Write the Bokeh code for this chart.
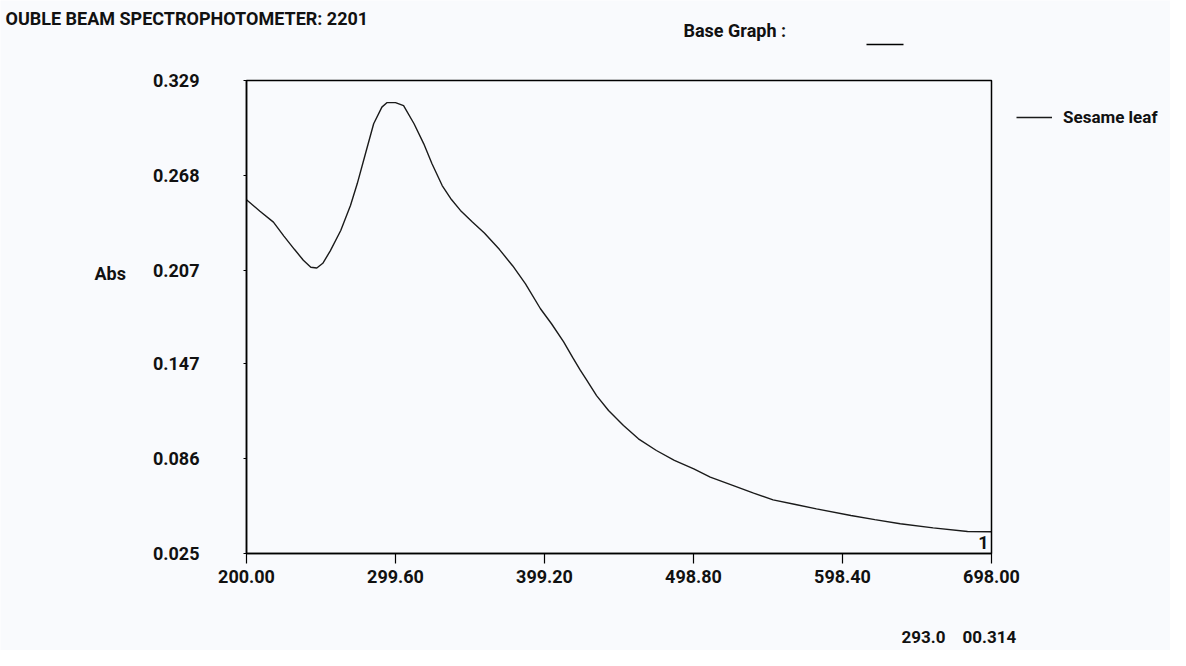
from bokeh.plotting import figure
from bokeh.models import (Legend, LegendItem, Label, BoxAnnotation, FixedTicker)
from bokeh.embed import file_html
from bokeh.resources import INLINE

# ---- data ----
wavelength = [200, 209, 218, 225, 232, 238, 243, 247, 251, 256, 263, 269.5, 274,
              279.5, 285, 290.5, 294, 299.6, 305, 312, 318.5, 324, 330.8, 337, 343,
              351, 359, 369, 378, 386.5, 396.5, 404, 412, 418, 423, 427, 434, 442,
              452, 462, 474, 486, 499, 510, 525, 539, 552, 567, 581, 604, 620, 637,
              659, 682, 698]
absorbance = [0.2523, 0.245, 0.238, 0.229, 0.2205, 0.2135, 0.209, 0.2085, 0.2115,
              0.2195, 0.2326, 0.2487, 0.2626, 0.2819, 0.3012, 0.3119, 0.3148, 0.3148,
              0.3129, 0.3012, 0.2883, 0.2755, 0.2615, 0.2525, 0.2455, 0.2380, 0.2310,
              0.2205, 0.2098, 0.1983, 0.1823, 0.1725, 0.1610, 0.1510, 0.1430, 0.1370,
              0.1265, 0.1169, 0.1073, 0.0987, 0.0912, 0.0848, 0.0794, 0.0741, 0.0688,
              0.0638, 0.0595, 0.0565, 0.0537, 0.0494, 0.0468, 0.0441, 0.0415, 0.0391,
              0.0390]

x_ticks = [200.0, 299.6, 399.2, 498.8, 598.4, 698.0]
x_tick_labels = ["200.00", "299.60", "399.20", "498.80", "598.40", "698.00"]
y_ticks = [0.025, 0.086, 0.147, 0.207, 0.268, 0.329]
y_tick_labels = ["0.025", "0.086", "0.147", "0.207", "0.268", "0.329"]

series_name = "Sesame leaf"
title_text = "OUBLE BEAM SPECTROPHOTOMETER: 2201"
base_graph_text = "Base Graph :"
y_label_text = "Abs"
cursor_x_text = "293.0"
cursor_y_text = "00.314"
curve_number = "1"

# ---- style / layout ----
FONT = "Roboto"
BG = "#f9fafd"
INK = "#111111"
FS = "18px"

W, H = 1170, 650
# plot box in canvas pixels (x right, y down)
BOX_L, BOX_R, BOX_T, BOX_B = 246, 991, 80, 553

x0, x1 = x_ticks[0], x_ticks[-1]
y0, y1 = y_ticks[0], y_ticks[-1]
xpp = (x1 - x0) / (BOX_R - BOX_L)
ypp = (y1 - y0) / (BOX_B - BOX_T)
x_range = (x0 - BOX_L * xpp, x1 + (W - BOX_R) * xpp)
y_range = (y0 - (H - BOX_B) * ypp, y1 + BOX_T * ypp)

p = figure(width=W, height=H, x_range=x_range, y_range=y_range,
           output_backend="svg", toolbar_location=None,
           min_border=0, min_border_left=0, min_border_right=0,
           min_border_top=0, min_border_bottom=0,
           background_fill_color=BG, border_fill_color=BG)

p.xgrid.visible = False
p.ygrid.visible = False
p.outline_line_color = None

# plot box
p.add_layout(BoxAnnotation(left=x0, right=x1, bottom=y0, top=y1,
                           fill_alpha=0, line_color="black", line_alpha=1.0,
                           line_width=1.5))

r = p.line(wavelength, absorbance, line_color="#1a1a1a", line_width=1.4)

# axes (kept in their side panels, drawn at the plot box edges)
for ax in (p.xaxis[0], p.yaxis[0]):
    ax.axis_line_color = "black"
    ax.axis_line_width = 1.5
    ax.major_tick_line_color = "black"
    ax.major_tick_line_width = 1.2
    ax.major_tick_in = 0
    ax.minor_tick_in = 0
    ax.minor_tick_out = 0
    ax.major_label_text_font = FONT
    ax.major_label_text_font_style = "bold"
    ax.major_label_text_font_size = FS
    ax.major_label_text_color = INK

p.xaxis.fixed_location = y0
p.xaxis.bounds = (x0, x1)
p.xaxis.ticker = FixedTicker(ticks=x_ticks)
p.xaxis.major_label_overrides = {t: l for t, l in zip(x_ticks, x_tick_labels)}
p.xaxis.major_tick_out = 10
p.xaxis.major_label_standoff = 6

p.yaxis.fixed_location = x0
p.yaxis.bounds = (y0, y1)
p.yaxis.ticker = FixedTicker(ticks=y_ticks)
p.yaxis.major_label_overrides = {t: l for t, l in zip(y_ticks, y_tick_labels)}
p.yaxis.major_tick_out = 3
p.yaxis.major_label_standoff = 44

# canvas px -> screen units (from frame bottom-left, y up); frame == canvas here
def sy(cy):
    return H - cy

legend = Legend(items=[LegendItem(label=series_name, renderers=[r])],
                location=(1016, sy(129)), orientation="vertical",
                margin=0, padding=0, spacing=0,
                glyph_width=36, glyph_height=24, label_height=24,
                label_standoff=11,
                label_text_font=FONT, label_text_font_style="bold",
                label_text_font_size="17px", label_text_color=INK,
                border_line_alpha=0, background_fill_alpha=0)
p.add_layout(legend)

def add_label(txt, cx, cy, align="left", size=FS):
    p.add_layout(Label(x=cx, y=sy(cy), x_units="screen", y_units="screen", text=txt,
                       text_font=FONT, text_font_style="bold", text_font_size=size,
                       text_color=INK, text_align=align, text_baseline="middle"))

add_label(title_text, 5, 18)
add_label(base_graph_text, 683, 30)
add_label(y_label_text, 94, 273)
add_label(cursor_x_text, 901, 636, size="17px")
add_label(cursor_y_text, 962, 636, size="17px")
add_label(curve_number, 988, 542, align="right")

# short "base graph" marker line
p.add_layout(BoxAnnotation(left=866, right=903, top=sy(43.2), bottom=sy(44.8),
                           left_units="screen", right_units="screen",
                           top_units="screen", bottom_units="screen",
                           fill_color="black", fill_alpha=1, line_alpha=0))

open("out.html", "w").write(file_html(p, INLINE))
